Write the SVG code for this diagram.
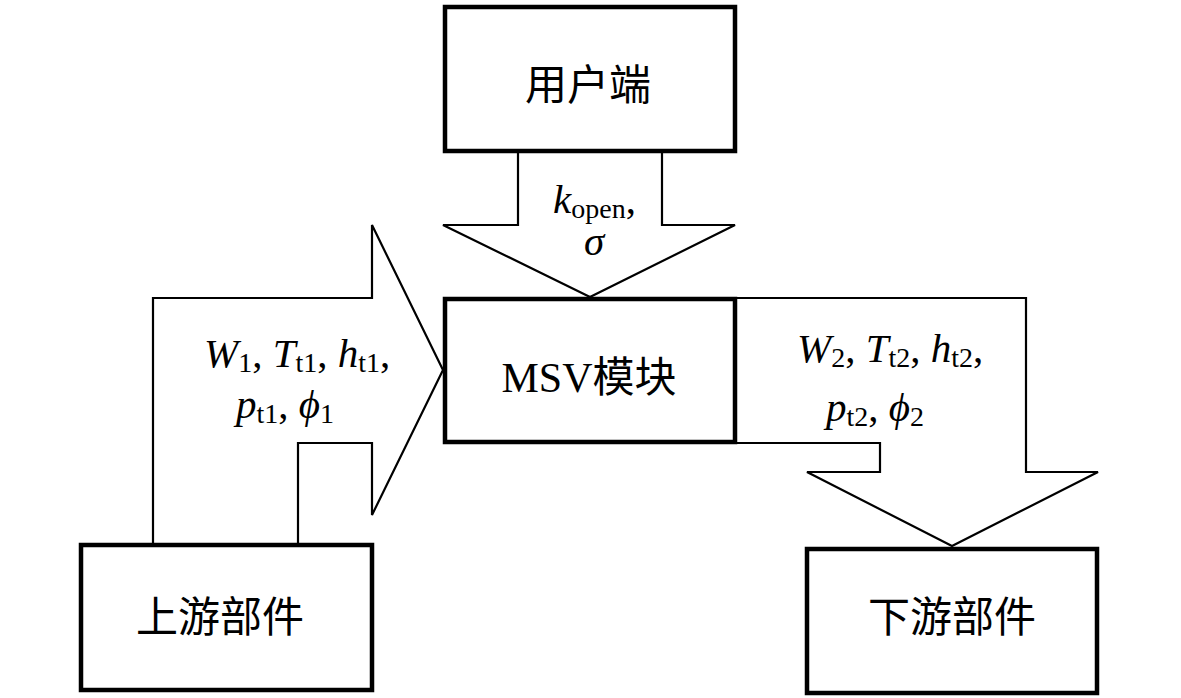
<svg xmlns="http://www.w3.org/2000/svg" width="1181" height="698" viewBox="0 0 1181 698">
<style>
.box{fill:#fff;stroke:#000;stroke-width:4.5}
.arr{fill:#fff;stroke:#000;stroke-width:2.2;stroke-linejoin:miter}
.cn{font-family:"Liberation Serif","Noto Sans CJK SC",serif;font-size:42px;fill:#000;text-anchor:middle}
.m{font-family:"Liberation Serif",serif;font-size:41px;fill:#000}
.i{font-style:italic}
.s{font-size:28px;font-style:normal}
</style>
<rect width="1181" height="698" fill="#fff"/>
<g id="connectors">
<polygon class="arr" points="518,151 518,225 443,225 590,297 735,225 662,225 662,151"/>
<polygon class="arr" points="153,545 153,298 372,298 372,225 443,370 372,515 372,443 298,443 298,545"/>
<polygon class="arr" points="735,298 1026,298 1026,472 1098,472 952,546 807,472 880,472 880,443 735,443"/>
<text class="m" x="553" y="213"><tspan class="i">k</tspan><tspan class="s" dy="5">open</tspan><tspan dy="-5">,</tspan><tspan class="i" x="584" dy="42">σ</tspan></text>
<text class="m" x="204" y="367"><tspan class="i">W</tspan><tspan class="s" dy="5">1</tspan><tspan dy="-5">, </tspan><tspan class="i">T</tspan><tspan class="s" dy="5">t1</tspan><tspan dy="-5">, </tspan><tspan class="i">h</tspan><tspan class="s" dy="5">t1</tspan><tspan dy="-5">,</tspan></text>
<text class="m" x="236" y="418"><tspan class="i">p</tspan><tspan class="s" dy="5">t1</tspan><tspan dy="-5">, </tspan><tspan class="i">ϕ</tspan><tspan class="s" dy="5">1</tspan></text>
<text class="m" x="797" y="362"><tspan class="i">W</tspan><tspan class="s" dy="5">2</tspan><tspan dy="-5">, </tspan><tspan class="i">T</tspan><tspan class="s" dy="5">t2</tspan><tspan dy="-5">, </tspan><tspan class="i">h</tspan><tspan class="s" dy="5">t2</tspan><tspan dy="-5">,</tspan></text>
<text class="m" x="826" y="421"><tspan class="i">p</tspan><tspan class="s" dy="5">t2</tspan><tspan dy="-5">, </tspan><tspan class="i">ϕ</tspan><tspan class="s" dy="5">2</tspan></text>
</g>
<g id="user">
<rect class="box" x="445" y="7" width="290" height="144"/>
<text class="cn" x="588" y="100">用户端</text>
</g>
<g id="msv">
<rect class="box" x="445" y="299" width="290" height="143"/>
<text class="cn" x="589" y="392">MSV模块</text>
</g>
<g id="upstream">
<rect class="box" x="81" y="545" width="291" height="145"/>
<text class="cn" x="220" y="632">上游部件</text>
</g>
<g id="downstream">
<rect class="box" x="807" y="549" width="290" height="144"/>
<text class="cn" x="952" y="632">下游部件</text>
</g>
</svg>
